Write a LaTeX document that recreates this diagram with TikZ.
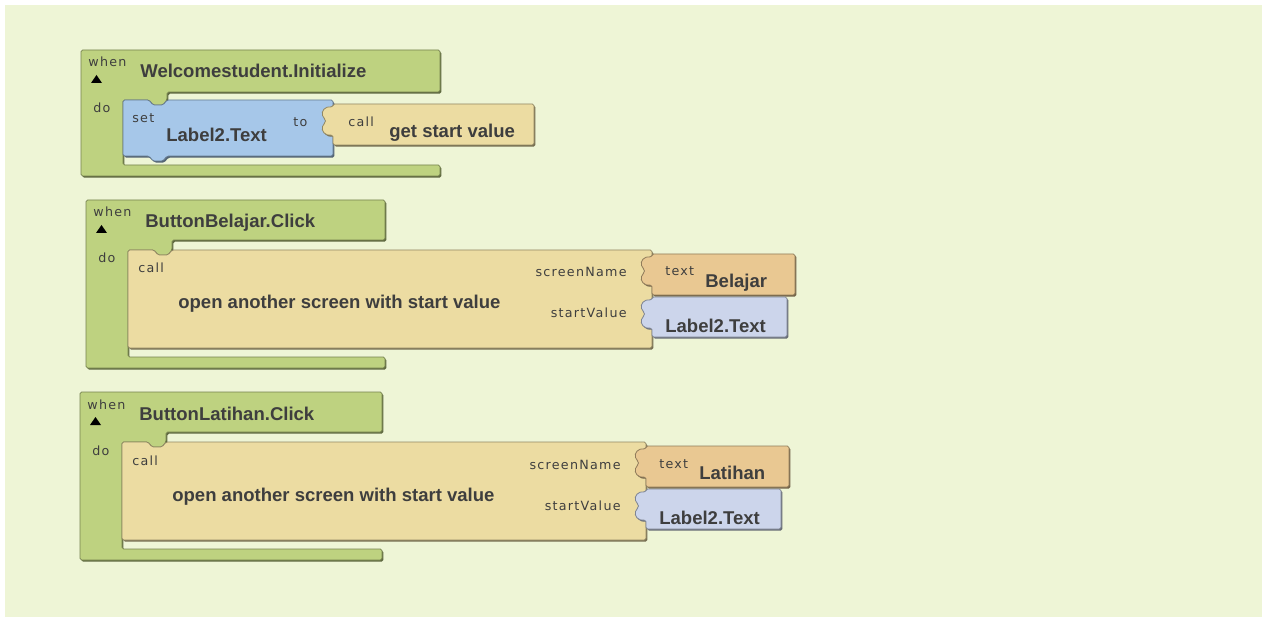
\documentclass[tikz,border=0pt]{standalone}
\usepackage{fontspec}
\setmainfont{Liberation Sans}
\newfontfamily\tagfont[LetterSpace=10]{DejaVu Sans}

\definecolor{paper}{RGB}{238,245,214}
\definecolor{evgreen}{RGB}{190,210,128}
\definecolor{setblue}{RGB}{166,199,233}
\definecolor{calltan}{RGB}{236,220,162}
\definecolor{textorange}{RGB}{233,200,146}
\definecolor{getblue}{RGB}{204,213,235}
\definecolor{ink}{RGB}{62,62,62}

\tikzset{
  blk/.style={fill=#1, draw=#1!62!black, line width=0.45pt, rounded corners=0.9pt,
    preaction={fill=#1!50!black, transform canvas={shift={(0.8pt,-0.9pt)}}}},
  tag/.style={inner sep=0pt, anchor=base west, text=ink, font=\tagfont\fontsize{7.2}{8}\selectfont},
  ttl/.style={inner sep=0pt, anchor=base west, text=ink, font=\bfseries\fontsize{10.5}{12}\selectfont},
}

% #1 header right, #2 header bottom, #3 bottom of the statement inside, #4 name prefix
\newcommand\hatblock[4]{
  \path[blk=evgreen] (0,0) -- (#1,0) -- (#1,#2) -- (86,#2) -- (86,50) -- (82,55) -- (72,55) -- (68,50)
    -- (42,50) -- (42,#3+9) -- (#1,#3+9) -- (#1,#3+20) -- (0,#3+20) -- cycle;
  \node[tag] (#4when) at (7,17) {when};
  \fill[black] (10,33) -- (21,33) -- (15.5,25) -- cycle;
  \node[tag] (#4do) at (12,63) {do};
}

% value block with its plug on the left: #1 left, #2 top, #3 right, #4 bottom, #5 colour
\newcommand\valblock[5]{
  \path[blk=#5] (#1,#2) -- (#3,#2) -- (#3,#4) -- (#1,#4) -- (#1,#2+31)
    .. controls (#1-8,#2+32) and (#1-12,#2+27) .. (#1-10,#2+21)
    .. controls (#1-7,#2+18) and (#1-7,#2+16) .. (#1-10,#2+13)
    .. controls (#1-12,#2+7) and (#1-8,#2+2) .. (#1,#2+3) -- cycle;
}

\begin{document}
\begin{tikzpicture}[x=0.567pt, y=-0.567pt]
\useasboundingbox (0,0) rectangle (1264,617);
\fill[white] (0,0) rectangle (1264,617);
\fill[paper] (5,5) rectangle (1262,617);

\begin{scope}[shift={(81,50)}]
  \hatblock{359}{42}{106}{init}
  \path[blk=setblue] (42,50) -- (68,50) -- (72,55) -- (82,55) -- (86,50) -- (252,50) -- (252,106)
    -- (86,106) -- (82,111) -- (72,111) -- (68,106) -- (42,106) -- cycle;
  \valblock{252}{54}{453}{95}{calltan}
  \node[ttl] (inittitle) at (59,28) {Welcomestudent.Initialize};
  \node[tag] (initset) at (51,73) {set};
  \node[ttl] (initlabel) at (85,92) {Label2.Text};
  \node[tag] (initto) at (212,77) {to};
  \node[tag] (initcall) at (267,77) {call};
  \node[ttl] (initget) at (308,88) {get start value};
\end{scope}

\foreach \bx/\by/\hw/\ev/\scr/\nm in {86/200/299/ButtonBelajar.Click/Belajar/bel,
                                      80/392/302/ButtonLatihan.Click/Latihan/lat}{
  \begin{scope}[shift={(\bx,\by)}]
    \hatblock{\hw}{40}{148}{\nm}
    \path[blk=calltan] (42,50) -- (68,50) -- (72,55) -- (82,55) -- (86,50) -- (566,50)
      -- (566,148) -- (42,148) -- cycle;
    \valblock{566}{54}{709}{95}{textorange}
    \valblock{566}{97}{701}{137}{getblue}
    \node[ttl] (\nm title) at (59,28) {\ev};
    \node[tag] (\nm call) at (52,73) {call};
    \node[ttl] (\nm open) at (92,109) {open another screen with start value};
    \node[tag, anchor=base east] (\nm screen) at (541,77) {screenName};
    \node[tag, anchor=base east] (\nm start) at (541,118) {startValue};
    \node[tag] (\nm text) at (579,76) {text};
    \node[ttl] (\nm value) at (619,87) {\scr};
    \node[ttl] (\nm label) at (579,132) {Label2.Text};
  \end{scope}
}
\end{tikzpicture}
\end{document}
